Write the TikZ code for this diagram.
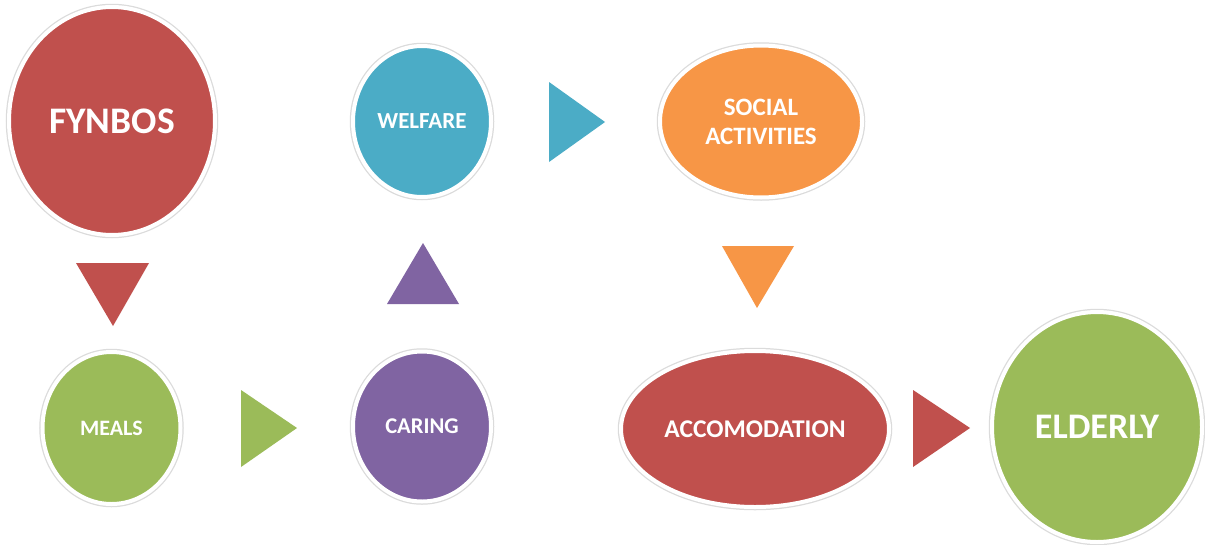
\documentclass[tikz,border=0pt]{standalone}
\usepackage{fontspec}
\setmainfont{Carlito}
\usetikzlibrary{shapes.geometric}
\definecolor{cred}{HTML}{C0504D}
\definecolor{cblue}{HTML}{4BACC6}
\definecolor{corange}{HTML}{F79646}
\definecolor{cgreen}{HTML}{9BBB59}
\definecolor{cpurple}{HTML}{8064A2}
\tikzset{
  bubble/.style={ellipse, inner sep=0pt, outer sep=0pt, text=white,
    font=\bfseries, align=center,
    preaction={draw=black!14, line width=6.5pt},
    draw=white, line width=4pt}
}
\begin{document}
\begin{tikzpicture}[x=1pt,y=-1pt]
\useasboundingbox[fill=white] (0,0) rectangle (1205,544);
% bubbles (centre, size = 2*rx x 2*ry incl. white rim)
\node[bubble, fill=cred, minimum width=206pt, minimum height=228pt,
      font=\bfseries\fontsize{37.5}{42}\selectfont] (fynbos) at (112,121) {FYNBOS};
\node[bubble, fill=cblue, minimum width=138pt, minimum height=151pt,
      font=\bfseries\fontsize{23}{27}\selectfont] (welfare) at (422,121.5) {WELFARE};
\node[bubble, fill=corange, minimum width=202pt, minimum height=152pt,
      font=\bfseries\fontsize{25}{29}\selectfont] (social) at (761,121.5) {SOCIAL\\ACTIVITIES};
\node[bubble, fill=cgreen, minimum width=138pt, minimum height=152pt,
      font=\bfseries\fontsize{22}{26}\selectfont] (meals) at (111.5,428) {MEALS};
\node[bubble, fill=cpurple, minimum width=138pt, minimum height=150pt,
      font=\bfseries\fontsize{22.5}{26}\selectfont] (caring) at (422,426.5) {CARING};
\node[bubble, fill=cred, minimum width=268pt, minimum height=156pt,
      font=\bfseries\fontsize{25.5}{30}\selectfont] (accom) at (755,429) {ACCOMODATION};
\node[bubble, fill=cgreen, minimum width=210pt, minimum height=230pt,
      font=\bfseries\fontsize{36}{40}\selectfont] (elderly) at (1097,427) {ELDERLY};
% triangles (flow markers)
\fill[cred] (76,263) -- (149,263) -- (113,326) -- cycle;
\fill[cgreen] (241,390) -- (297,428) -- (241,467) -- cycle;
\fill[cpurple] (387,304) -- (423,243) -- (459,304) -- cycle;
\fill[cblue] (549,82) -- (605,122) -- (549,162) -- cycle;
\fill[corange] (722,246) -- (794,246) -- (757,308) -- cycle;
\fill[cred] (913,390) -- (970,428) -- (913,467) -- cycle;
\end{tikzpicture}
\end{document}
